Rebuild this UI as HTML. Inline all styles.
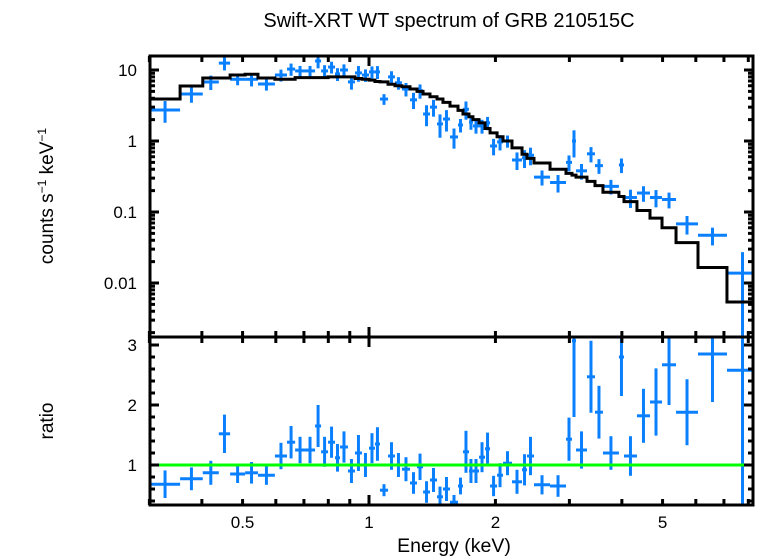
<!DOCTYPE html>
<html><head><meta charset="utf-8"><style>
body{margin:0;background:#fff;}
svg{display:block;font-family:"Liberation Sans",sans-serif;}
</style></head><body>
<svg id="c" width="758" height="556"></svg>
<script>
const edges=[0.301,0.355,0.402,0.439,0.467,0.507,0.544,0.597,0.638,0.667,0.704,0.744,0.769,0.799,0.830,0.853,0.891,0.926,0.962,1.0,1.033,1.062,1.110,1.153,1.198,1.252,1.301,1.345,1.397,1.452,1.500,1.559,1.629,1.674,1.730,1.768,1.828,1.889,1.942,2.018,2.085,2.190,2.314,2.378,2.471,2.698,2.945,3.043,3.111,3.304,3.452,3.606,3.936,4.047,4.345,4.667,4.985,5.383,6.072,7.117,8.44];
const dataVal=[2.73,4.59,6.78,12.5,7.4,7.4,6.35,8.5,10.3,9.7,9.7,13.4,9.7,11.0,8.8,10,6.8,9.1,8.5,9.4,9.4,3.9,8,6.6,5.4,3.8,5.1,2.4,3.0,1.74,2.04,1.14,1.68,2.8,1.85,1.63,1.63,1.8,0.85,0.97,1.0,0.54,0.58,0.63,0.31,0.26,0.5,1.0,0.38,0.66,0.45,0.23,0.46,0.16,0.185,0.16,0.15,0.068,0.047,0.0138];
const modelVal=[3.9,5.95,7.7,7.7,8.5,8.7,7.7,7.4,7.4,7.8,7.8,7.8,7.8,8.0,8.0,8.0,8.0,7.6,7.4,7.2,6.9,6.8,6.3,6.0,5.8,5.4,5.0,4.6,4.2,3.9,3.5,3.1,2.7,2.4,2.2,2.0,1.8,1.5,1.3,1.15,1.0,0.8,0.65,0.57,0.49,0.4,0.35,0.33,0.31,0.27,0.235,0.19,0.165,0.14,0.105,0.082,0.06,0.037,0.0165,0.0054];
const ratioVal=[0.68,0.77,0.87,1.52,0.85,0.87,0.83,1.15,1.38,1.25,1.25,1.65,1.22,1.38,1.12,1.3,0.9,1.2,1.0,1.28,1.35,0.58,1.15,1.0,0.93,0.7,0.97,0.55,0.75,0.47,0.6,0.38,0.65,1.22,0.9,0.9,1.13,1.27,0.65,0.83,1.03,0.72,0.92,1.15,0.67,0.65,1.43,3.07,1.25,2.47,1.88,1.2,2.8,1.15,1.82,2.05,2.67,1.88,2.85,2.58];
const ratioErr=[0.23,0.19,0.2,0.32,0.15,0.18,0.16,0.22,0.27,0.22,0.22,0.35,0.25,0.26,0.23,0.26,0.2,0.3,0.2,0.25,0.28,0.1,0.23,0.2,0.2,0.18,0.22,0.18,0.2,0.17,0.2,0.12,0.14,0.35,0.2,0.2,0.25,0.27,0.17,0.2,0.2,0.2,0.26,0.32,0.16,0.18,0.36,1.27,0.31,0.6,0.44,0.28,0.65,0.33,0.45,0.56,0.67,0.55,0.8,2.5];
const topTicks=[{v:10,l:"10"},{v:1,l:"1"},{v:0.1,l:"0.1"},{v:0.01,l:"0.01"}];
const ratioTicks=[1,2,3];
const xTickLabels=[0.5,1,2,5];

const NS="http://www.w3.org/2000/svg",svg=document.getElementById('c');
const L=150,R=753,T=56,M=337,B=505;
const X=e=>369+420*Math.log10(e);
const Yt=v=>70-71*Math.log10(v/10);
const Yr=r=>465-60*(r-1);
function el(t,a,p){const e=document.createElementNS(NS,t);for(const k in a)e.setAttribute(k,a[k]);(p||svg).appendChild(e);return e;}
const defs=el('defs',{});
const c1=el('clipPath',{id:'ct'},defs);el('rect',{x:L,y:T,width:R-L,height:M-T},c1);
const c2=el('clipPath',{id:'cb'},defs);el('rect',{x:L,y:M,width:R-L,height:B-M},c2);
const gTop=el('g',{'clip-path':'url(#ct)'});


const gBot=el('g',{'clip-path':'url(#cb)'});


const blue="#0a80ff";
for(let i=0;i<dataVal.length;i++){
  const x0=X(edges[i]),x1=X(edges[i+1]),xc=X(Math.sqrt(edges[i]*edges[i+1]));
  const y=Yt(dataVal[i]),rel=ratioErr[i]/ratioVal[i];
  const lo=Math.max(dataVal[i]*(1-rel),1e-4),hi=dataVal[i]*(1+rel);
  const g=el('g',{stroke:blue,'stroke-width':3},gTop);
  
  
  el('line',{x1:x0,x2:x1,y1:y,y2:y},g);
  el('line',{x1:xc,x2:xc,y1:Yt(hi),y2:Yt(lo)},g);
  const gr=el('g',{stroke:blue,'stroke-width':3},gBot);
  
  
  const yr=Yr(ratioVal[i]);
  el('line',{x1:x0,x2:x1,y1:yr,y2:yr},gr);
  el('line',{x1:xc,x2:xc,y1:Yr(ratioVal[i]+ratioErr[i]),y2:Yr(ratioVal[i]-ratioErr[i])},gr);
}
let d="";
for(let i=0;i<modelVal.length;i++){const y=Yt(modelVal[i]);d+=(i?"L":"M")+X(edges[i])+","+y+"L"+X(edges[i+1])+","+y;}
const mp=el('path',{d:d,fill:'none',stroke:'#000','stroke-width':3},gTop);


const gl=el('line',{x1:L,x2:R,y1:Yr(1),y2:Yr(1),stroke:'#00ff00','stroke-width':3},gBot);


const ax=el('g',{stroke:'#000','stroke-width':3,fill:'none'});


el('rect',{x:L,y:T,width:R-L,height:B-T},ax);
el('line',{x1:L,x2:R,y1:M,y2:M},ax);
const xt=[0.3,0.4,0.5,0.6,0.7,0.8,0.9,1,2,3,4,5,6,7,8];
xt.forEach(e=>{const x=X(e),len=e===1?10:6;
  [[T,1],[M,-1],[M,1],[B,-1]].forEach(([y,s])=>el('line',{x1:x,x2:x,y1:y,y2:y+s*len},ax));});
for(let dec=-3;dec<=1;dec++)for(let m=1;m<10;m++){const v=m*Math.pow(10,dec),y=Yt(v);if(y<T||y>M)continue;const len=m===1?9:5;
  el('line',{x1:L,x2:L+len,y1:y,y2:y},ax);el('line',{x1:R,x2:R-len,y1:y,y2:y},ax);}
for(let r=0.4;r<=3.1;r+=0.2){const y=Yr(r);if(y<M||y>B)continue;const maj=Math.abs(r-Math.round(r))<0.01,len=maj?9:5;
  el('line',{x1:L,x2:L+len,y1:y,y2:y},ax);el('line',{x1:R,x2:R-len,y1:y,y2:y},ax);}
function txt(s,a,name){const t=el('text',Object.assign({'font-size':17,fill:'#000'},a));t.textContent=s;return t;}
topTicks.forEach(t=>txt(t.l,{x:137,y:Yt(t.v)+6,'text-anchor':'end'},'y-tick-label'));
ratioTicks.forEach(r=>txt(String(r),{x:137,y:Yr(r)+6,'text-anchor':'end'},'ratio-tick-label'));
xTickLabels.forEach(e=>txt(String(e),{x:X(e),y:528,'text-anchor':'middle'},'x-tick-label'));
txt("Swift-XRT WT spectrum of GRB 210515C",{x:449,y:27,'text-anchor':'middle','font-size':20},'chart-title');
txt("Energy (keV)",{x:454,y:552,'text-anchor':'middle','font-size':19.5},'x-axis-title');
const yt=txt("",{x:0,y:0,transform:'translate(53,196) rotate(-90)','text-anchor':'middle','font-size':19},'y-axis-title');
yt.innerHTML='counts s<tspan font-size="12" dy="-7">−1</tspan><tspan dy="7"> keV</tspan><tspan font-size="12" dy="-7">−1</tspan>';
txt("ratio",{x:0,y:0,transform:'translate(53,421) rotate(-90)','text-anchor':'middle','font-size':19},'ratio-axis-title');
</script>
</body></html>
